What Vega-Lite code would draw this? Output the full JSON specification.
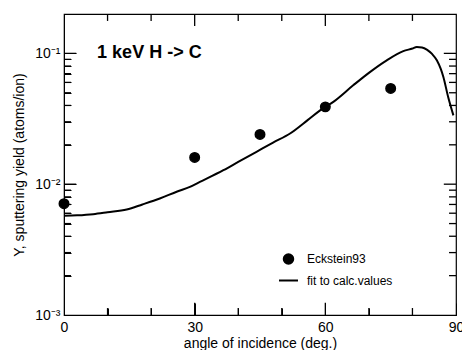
{
  "$schema": "https://vega.github.io/schema/vega-lite/v6.json",
  "width": 392,
  "height": 301,
  "autosize": {"type": "none"},
  "padding": {"left": 64, "top": 14, "right": 6, "bottom": 35},
  "background": "white",
  "config": {
    "font": "Liberation Sans",
    "view": {"stroke": "black", "strokeWidth": 1.2},
    "axis": {"grid": false, "labelColor": "black", "titleColor": "black", "labelFont": "Liberation Sans", "titleFont": "Liberation Sans", "titleFontWeight": "normal", "tickColor": "black", "domainColor": "black"},
    "rule": {"color": "black", "strokeWidth": 1.3}
  },
  "datasets": {
    "curve": [
      {"angle": 0, "Y": 0.00573},
      {"angle": 3, "Y": 0.00578},
      {"angle": 6.7, "Y": 0.0059},
      {"angle": 10, "Y": 0.0061},
      {"angle": 14.4, "Y": 0.0064},
      {"angle": 18, "Y": 0.0070},
      {"angle": 22, "Y": 0.00778},
      {"angle": 26, "Y": 0.0088},
      {"angle": 28.9, "Y": 0.00953},
      {"angle": 31.2, "Y": 0.0104},
      {"angle": 36.6, "Y": 0.0128},
      {"angle": 40, "Y": 0.0148},
      {"angle": 44.2, "Y": 0.0177},
      {"angle": 48, "Y": 0.0208},
      {"angle": 51.9, "Y": 0.0244},
      {"angle": 56, "Y": 0.031},
      {"angle": 58.8, "Y": 0.0367},
      {"angle": 62, "Y": 0.043},
      {"angle": 66.4, "Y": 0.057},
      {"angle": 70, "Y": 0.071},
      {"angle": 74.1, "Y": 0.0885},
      {"angle": 77.9, "Y": 0.104},
      {"angle": 80, "Y": 0.109},
      {"angle": 81, "Y": 0.112},
      {"angle": 82.2, "Y": 0.111},
      {"angle": 83.3, "Y": 0.107},
      {"angle": 84.5, "Y": 0.099},
      {"angle": 85.6, "Y": 0.0885},
      {"angle": 86.5, "Y": 0.076},
      {"angle": 87.1, "Y": 0.066},
      {"angle": 88.2, "Y": 0.0464},
      {"angle": 89.4, "Y": 0.0336}
    ],
    "points": [
      {"angle": 0, "Y": 0.0071, "series": "Eckstein93"},
      {"angle": 30, "Y": 0.016, "series": "Eckstein93"},
      {"angle": 45, "Y": 0.024, "series": "Eckstein93"},
      {"angle": 60, "Y": 0.039, "series": "Eckstein93"},
      {"angle": 75, "Y": 0.054, "series": "Eckstein93"}
    ],
    "xmajor": [{"v": 30}, {"v": 60}],
    "xminor": [{"v": 10}, {"v": 20}, {"v": 40}, {"v": 50}, {"v": 70}, {"v": 80}],
    "ymajor": [{"v": 0.01}, {"v": 0.1}],
    "yminor": [{"v": 0.002}, {"v": 0.003}, {"v": 0.004}, {"v": 0.005}, {"v": 0.006}, {"v": 0.007}, {"v": 0.008}, {"v": 0.009}, {"v": 0.02}, {"v": 0.03}, {"v": 0.04}, {"v": 0.05}, {"v": 0.06}, {"v": 0.07}, {"v": 0.08}, {"v": 0.09}],
    "note": [{"label": "1 keV H -> C"}]
  },
  "layer": [
    {
      "data": {"name": "curve"},
      "mark": {"type": "line", "color": "black", "strokeWidth": 2, "interpolate": "monotone"},
      "encoding": {
        "x": {
          "field": "angle", "type": "quantitative",
          "scale": {"domain": [0, 90], "nice": false, "zero": false},
          "axis": {
            "orient": "bottom",
            "title": "angle of incidence (deg.)",
            "titleFontSize": 14, "titlePadding": 2,
            "values": [0, 10, 20, 30, 40, 50, 60, 70, 80, 90],
            "labelExpr": "datum.value % 30 === 0 ? datum.label : ''",
            "labelFontSize": 14,
            "labelPadding": 17,
            "labelFlush": false,
            "tickSize": {"condition": {"test": "datum.value % 30 === 0", "value": -12}, "value": -7}
          }
        },
        "y": {
          "field": "Y", "type": "quantitative",
          "scale": {"type": "log", "domain": [0.001, 0.2], "nice": false},
          "axis": {
            "orient": "left",
            "title": "Y, sputtering yield (atoms/ion)",
            "titleFontSize": 14, "titlePadding": 8,
            "values": [0.001, 0.002, 0.003, 0.004, 0.005, 0.006, 0.007, 0.008, 0.009, 0.01, 0.02, 0.03, 0.04, 0.05, 0.06, 0.07, 0.08, 0.09, 0.1],
            "labelExpr": "datum.value == 0.1 ? '10⁻¹' : datum.value == 0.01 ? '10⁻²' : datum.value == 0.001 ? '10⁻³' : ''",
            "labelFontSize": 14,
            "labelPadding": 16,
            "tickSize": {"condition": {"test": "datum.value == 0.1 || datum.value == 0.01 || datum.value == 0.001", "value": -12}, "value": -7}
          }
        }
      }
    },
    {
      "data": {"name": "xmajor"},
      "mark": {"type": "rule"},
      "encoding": {
        "x": {"field": "v", "type": "quantitative", "axis": null},
        "y": {"datum": 0.001, "type": "quantitative", "axis": null},
        "y2": {"datum": 0.00124}
      }
    },
    {
      "data": {"name": "xminor"},
      "mark": {"type": "rule"},
      "encoding": {
        "x": {"field": "v", "type": "quantitative", "axis": null},
        "y": {"datum": 0.001, "type": "quantitative", "axis": null},
        "y2": {"datum": 0.00113}
      }
    },
    {
      "data": {"name": "xmajor"},
      "mark": {"type": "rule"},
      "encoding": {
        "x": {"field": "v", "type": "quantitative", "axis": null},
        "y": {"datum": 0.2, "type": "quantitative", "axis": null},
        "y2": {"datum": 0.162}
      }
    },
    {
      "data": {"name": "xminor"},
      "mark": {"type": "rule"},
      "encoding": {
        "x": {"field": "v", "type": "quantitative", "axis": null},
        "y": {"datum": 0.2, "type": "quantitative", "axis": null},
        "y2": {"datum": 0.177}
      }
    },
    {
      "data": {"name": "ymajor"},
      "mark": {"type": "rule"},
      "encoding": {
        "y": {"field": "v", "type": "quantitative", "axis": null},
        "x": {"datum": 0, "type": "quantitative", "axis": null},
        "x2": {"datum": 2.8}
      }
    },
    {
      "data": {"name": "yminor"},
      "mark": {"type": "rule"},
      "encoding": {
        "y": {"field": "v", "type": "quantitative", "axis": null},
        "x": {"datum": 0, "type": "quantitative", "axis": null},
        "x2": {"datum": 1.6}
      }
    },
    {
      "data": {"name": "ymajor"},
      "mark": {"type": "rule"},
      "encoding": {
        "y": {"field": "v", "type": "quantitative", "axis": null},
        "x": {"datum": 90, "type": "quantitative", "axis": null},
        "x2": {"datum": 87.2}
      }
    },
    {
      "data": {"name": "yminor"},
      "mark": {"type": "rule"},
      "encoding": {
        "y": {"field": "v", "type": "quantitative", "axis": null},
        "x": {"datum": 90, "type": "quantitative", "axis": null},
        "x2": {"datum": 88.4}
      }
    },
    {
      "data": {"name": "points"},
      "mark": {"type": "point", "filled": false, "fill": "black", "stroke": "black", "strokeWidth": 1.5, "opacity": 1, "fillOpacity": 1},
      "encoding": {
        "x": {"field": "angle", "type": "quantitative", "axis": null},
        "y": {"field": "Y", "type": "quantitative", "axis": null},
        "shape": {
          "field": "series", "type": "nominal",
          "scale": {"domain": ["Eckstein93", "fit to calc.values"], "range": ["circle", "stroke"]},
          "legend": {
            "title": null,
            "orient": "none",
            "legendX": 214,
            "legendY": 239,
            "labelFontSize": 12,
            "labelFont": "Liberation Sans",
            "labelColor": "black",
            "rowPadding": 2,
            "labelOffset": 8,
            "symbolStrokeWidth": 2,
            "symbolOpacity": 1
          }
        },
        "size": {
          "field": "series", "type": "nominal",
          "scale": {"domain": ["Eckstein93", "fit to calc.values"], "range": [90, 360]},
          "legend": {
            "title": null,
            "orient": "none",
            "legendX": 214,
            "legendY": 239,
            "labelFontSize": 12,
            "labelFont": "Liberation Sans",
            "labelColor": "black",
            "rowPadding": 2,
            "labelOffset": 8,
            "symbolStrokeWidth": 2,
            "symbolOpacity": 1
          }
        }
      }
    },
    {
      "data": {"name": "note"},
      "mark": {"type": "text", "align": "left", "baseline": "middle", "fontSize": 18, "fontWeight": "bold", "color": "black", "font": "Liberation Sans"},
      "encoding": {
        "x": {"datum": 7.6, "type": "quantitative", "axis": null},
        "y": {"datum": 0.1, "type": "quantitative", "axis": null},
        "text": {"field": "label"}
      }
    }
  ],
  "resolve": {"axis": {"x": "independent", "y": "independent"}}
}
